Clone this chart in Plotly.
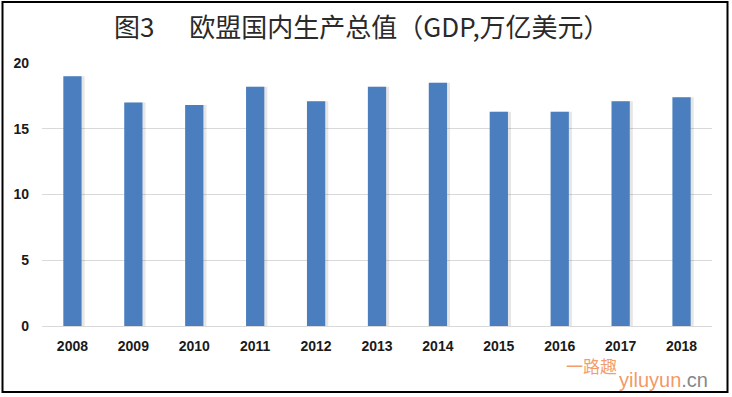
import plotly.graph_objects as go

years = ["2008", "2009", "2010", "2011", "2012", "2013", "2014", "2015", "2016", "2017", "2018"]
gdp = [19.0, 17.0, 16.8, 18.2, 17.1, 18.2, 18.5, 16.3, 16.3, 17.1, 17.4]
y_ticks = [0, 5, 10, 15, 20]

W, H = 732, 397
ML, MR, MT, MB = 42, 20, 63, 71
PW, PH = W - ML - MR, H - MT - MB


def px_x(px):
    return (px - ML) / PW


def px_y(py):
    return (H - MB - py) / PH


fig = go.Figure()
# soft drop shadow, drawn from the same data
fig.add_trace(go.Bar(
    x=years, y=gdp, width=0.3, offset=-0.15 + 0.05,
    marker=dict(color="rgba(90,90,90,0.15)", line=dict(width=0)),
    hoverinfo="skip", showlegend=False,
))
fig.add_trace(go.Bar(
    x=years, y=gdp, width=0.3, offset=-0.15,
    marker=dict(color="#4A7EBF", line=dict(width=0)),
    showlegend=False,
))

fig.update_layout(
    width=W, height=H,
    margin=dict(l=ML, r=MR, t=MT, b=MB, pad=0),
    paper_bgcolor="white", plot_bgcolor="white",
    barmode="overlay",
    showlegend=False,
    font=dict(family="Liberation Sans, Arial, sans-serif", color="#222222"),
    xaxis=dict(
        type="category", showgrid=False, zeroline=False, showline=False,
        ticks="", ticklabelstandoff=10,
        tickfont=dict(size=14, family="Liberation Sans Narrow, Liberation Sans, Arial", weight="bold", color="#1a1a1a"),
    ),
    yaxis=dict(
        range=[0, 20], tickvals=y_ticks, showgrid=True, gridcolor="#D9D9D9", gridwidth=1,
        zeroline=True, zerolinecolor="#D9D9D9", zerolinewidth=1, showline=False, ticks="",
        ticklabelstandoff=12,
        tickfont=dict(size=14, family="Liberation Sans, Arial", weight="bold", color="#1a1a1a"),
    ),
    annotations=[
        dict(text="图3      欧盟国内生产总值（GDP,万亿美元）", xref="paper", yref="paper",
             x=px_x(362), y=px_y(25), xanchor="center", yanchor="middle", showarrow=False,
             font=dict(size=26, family="Noto Sans CJK SC", color="#2a2a2a")),
        dict(text="一路趣", xref="paper", yref="paper", x=px_x(591), y=px_y(365),
             xanchor="center", yanchor="middle", showarrow=False, borderpad=0,
             font=dict(size=17, family="Noto Sans CJK SC", color="rgba(240,140,80,0.85)")),
        dict(text="<span style='color:rgba(240,140,80,0.9)'>yiluyun</span><span style='color:#888888'>.cn</span>",
             xref="paper", yref="paper", x=px_x(663), y=px_y(380),
             xanchor="center", yanchor="middle", showarrow=False, borderpad=0,
             font=dict(size=20, family="Liberation Sans, Arial")),
    ],
    shapes=[
        dict(type="rect", xref="paper", yref="paper",
             x0=px_x(2.5), x1=px_x(727.5), y0=px_y(392), y1=px_y(2),
             line=dict(color="black", width=2), fillcolor="rgba(0,0,0,0)", layer="above"),
    ],
)

fig.write_html("out.html", config={"displayModeBar": False},
               post_script="document.body.style.margin='0';document.body.style.padding='0';")
